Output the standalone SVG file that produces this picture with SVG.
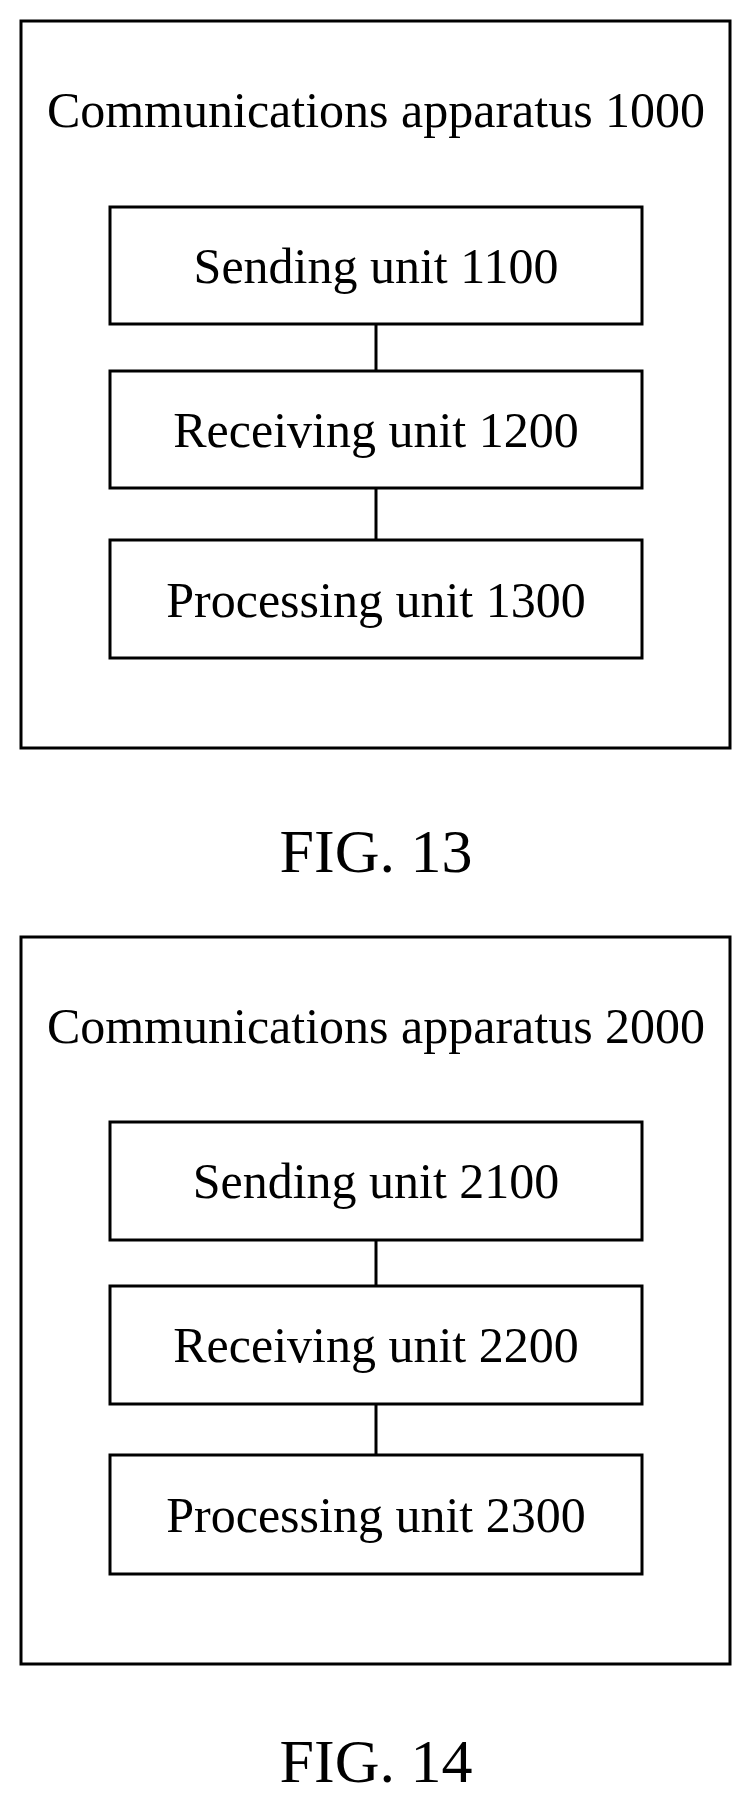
<svg xmlns="http://www.w3.org/2000/svg" width="756" height="1814" viewBox="0 0 756 1814">
<style>
rect{fill:#fff;stroke:#000;stroke-width:3}
text{font-family:"Liberation Serif",serif;fill:#000;text-anchor:middle}
.t{font-size:50px}.u{font-size:50px}.f{font-size:62px}
line{stroke:#000;stroke-width:3}
</style>
<rect x="0" y="0" width="756" height="1814" style="stroke:none"/>
<g id="fig13">
<g id="app1000"><rect x="21" y="21" width="709" height="727"/><text class="t" x="376" y="127">Communications apparatus 1000</text></g>
<g id="send1100"><rect x="110" y="207" width="532" height="117"/><text class="u" x="376" y="283">Sending unit 1100</text></g>
<g id="recv1200"><rect x="110" y="371" width="532" height="117"/><text class="u" x="376" y="447">Receiving unit 1200</text></g>
<g id="proc1300"><rect x="110" y="540" width="532" height="118"/><text class="u" x="376" y="617">Processing unit 1300</text></g>
<text class="f" x="376" y="872">FIG. 13</text>
</g>
<g id="fig14">
<g id="app2000"><rect x="21" y="937" width="709" height="727"/><text class="t" x="376" y="1043">Communications apparatus 2000</text></g>
<g id="send2100"><rect x="110" y="1122" width="532" height="118"/><text class="u" x="376" y="1198">Sending unit 2100</text></g>
<g id="recv2200"><rect x="110" y="1286" width="532" height="118"/><text class="u" x="376" y="1362">Receiving unit 2200</text></g>
<g id="proc2300"><rect x="110" y="1455" width="532" height="119"/><text class="u" x="376" y="1532">Processing unit 2300</text></g>
<text class="f" x="376" y="1782">FIG. 14</text>
</g>
<g id="connectors">
<line x1="376" y1="324" x2="376" y2="371"/>
<line x1="376" y1="488" x2="376" y2="540"/>
<line x1="376" y1="1240" x2="376" y2="1286"/>
<line x1="376" y1="1404" x2="376" y2="1455"/>
</g>
</svg>
